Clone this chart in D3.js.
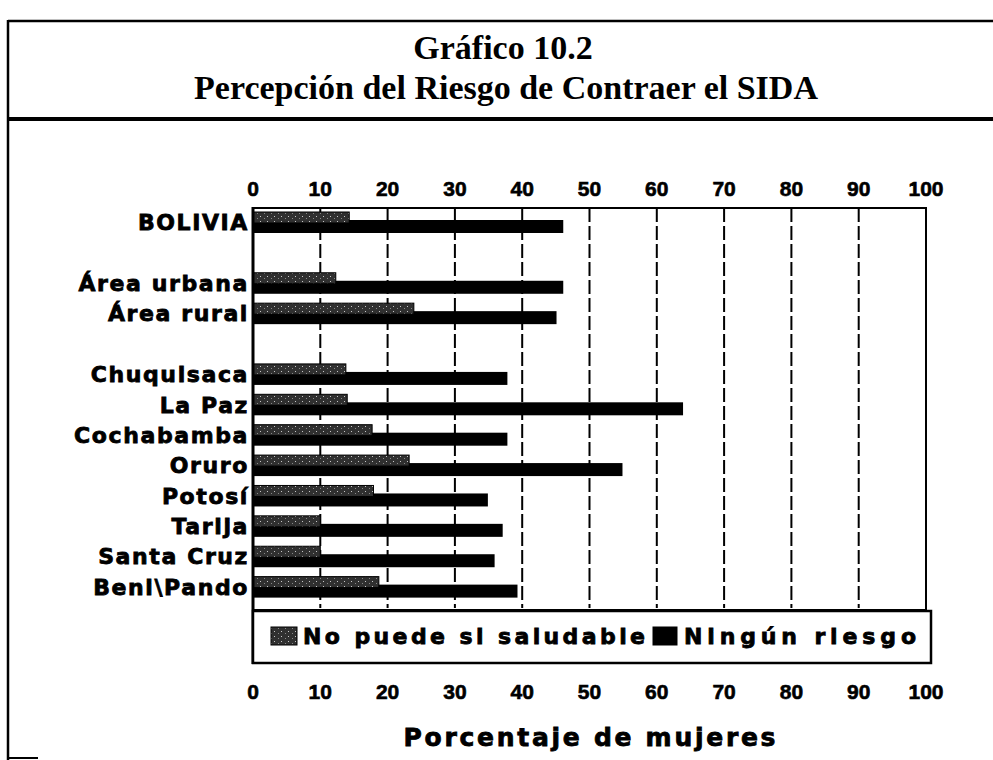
<!DOCTYPE html>
<html>
<head>
<meta charset="utf-8">
<script src="https://cdn.jsdelivr.net/npm/d3@7"></script>
<style>
  body { margin: 0; background: #fff; }
  svg { display: block; }
</style>
</head>
<body>
<div id="chart"></div>
<script>
// Data
const categories = ["BOLIVIA", "Área urbana", "Área rural", "Chuquisaca", "La Paz",
    "Cochabamba", "Oruro", "Potosí", "Tarija", "Santa Cruz", "Beni\\Pando"];
const noPuede = [14.3, 12.3, 23.9, 13.8, 14.0, 17.7, 23.2, 17.9, 10.0, 10.0, 18.7];
const ningunRiesgo = [46.1, 46.1, 45.1, 37.8, 63.9, 37.8, 54.9, 34.9, 37.1, 35.9, 39.3];
const tickValues = [0, 10, 20, 30, 40, 50, 60, 70, 80, 90, 100];
const seriesNames = ["No puede si saludable", "Ningún riesgo"];

const width = 993, height = 760;

const svg = d3.select("#chart")
    .append("svg")
    .attr("width", width)
    .attr("height", height);

// speckled dark fill for first series
const defs = svg.append("defs");
const pat = defs.append("pattern")
    .attr("id", "speckle")
    .attr("patternUnits", "userSpaceOnUse")
    .attr("width", 7)
    .attr("height", 5);
pat.append("rect").attr("width", 7).attr("height", 5).attr("fill", "#303030");
pat.append("rect").attr("x", 1).attr("y", 1).attr("width", 1).attr("height", 1).attr("fill", "#c8c8c8");
pat.append("rect").attr("x", 5).attr("y", 3).attr("width", 1).attr("height", 1).attr("fill", "#888");

// page frame
svg.append("line").attr("x1", 8).attr("x2", width).attr("y1", 21).attr("y2", 21)
    .attr("stroke", "#000").attr("stroke-width", 2.5);
svg.append("line").attr("x1", 8).attr("x2", width).attr("y1", 119).attr("y2", 119)
    .attr("stroke", "#000").attr("stroke-width", 4);
svg.append("line").attr("x1", 8).attr("x2", 8).attr("y1", 20).attr("y2", height)
    .attr("stroke", "#000").attr("stroke-width", 2.5);
svg.append("line").attr("x1", 8).attr("x2", 38).attr("y1", 758).attr("y2", 758)
    .attr("stroke", "#000").attr("stroke-width", 2);

// title
const title = svg.append("g")
    .style("font-family", "'Liberation Serif', 'Times New Roman', serif")
    .style("font-weight", "bold")
    .attr("text-anchor", "middle");
title.append("text").attr("x", 503).attr("y", 59)
    .style("font-size", "34px").text("Gráfico 10.2");
title.append("text").attr("x", 506).attr("y", 99)
    .style("font-size", "34px").text("Percepción del Riesgo de Contraer el SIDA");

// scales
const x = d3.scaleLinear().domain([0, 100]).range([253, 926]);

// blank slots after BOLIVIA and after Área rural
const slots = [categories[0], "gap1", categories[1], categories[2], "gap2"].concat(categories.slice(3));
const y = d3.scaleBand().domain(slots).range([207, 602]);

const plotTop = 208, plotBottom = 610;

// dashed gridlines
svg.append("g")
    .selectAll("line")
    .data(tickValues.slice(1, -1))
    .join("line")
    .attr("x1", d => x(d)).attr("x2", d => x(d))
    .attr("y1", plotTop).attr("y2", plotBottom - 2)
    .attr("stroke", "#000")
    .attr("stroke-width", 2)
    .attr("stroke-dasharray", "14,4");

// plot frame
svg.append("rect")
    .attr("x", x(0)).attr("y", plotTop)
    .attr("width", x(100) - x(0)).attr("height", plotBottom - plotTop)
    .attr("fill", "none").attr("stroke", "#000").attr("stroke-width", 2);

const rows = categories.map((c, i) => ({ cat: c, a: noPuede[i], b: ningunRiesgo[i] }));

// Ningún riesgo (black, lower)
svg.selectAll(".barB")
    .data(rows)
    .join("rect")
    .attr("class", "barB")
    .attr("x", x(0))
    .attr("y", d => y(d.cat) + 13)
    .attr("width", d => x(d.b) - x(0))
    .attr("height", 13)
    .attr("fill", "#000");

// No puede si saludable (speckled, upper, in front)
svg.selectAll(".barA")
    .data(rows)
    .join("rect")
    .attr("class", "barA")
    .attr("x", x(0))
    .attr("y", d => y(d.cat) + 5)
    .attr("width", d => x(d.a) - x(0))
    .attr("height", 11)
    .attr("fill", "url(#speckle)")
    .attr("stroke", "#000")
    .attr("stroke-width", 1);

// left axis line
svg.append("line")
    .attr("x1", x(0)).attr("x2", x(0))
    .attr("y1", plotTop - 1).attr("y2", 664)
    .attr("stroke", "#000").attr("stroke-width", 3);

// heavy sans style used for labels
const heavy = (sel, size) => sel
    .style("font-family", "'DejaVu Sans', sans-serif")
    .style("font-weight", "bold")
    .style("font-size", size + "px")
    .attr("stroke", "#000")
    .attr("stroke-width", 0.8);

// category labels
svg.append("g")
    .selectAll("text")
    .data(categories)
    .join("text")
    .attr("x", 249)
    .attr("y", d => y(d) + y.bandwidth() / 2 + 8)
    .attr("text-anchor", "end")
    .call(heavy, 22)
    .style("letter-spacing", "1.6px")
    .text(d => d);

// tick labels top and bottom
const tickFont = sel => sel
    .attr("text-anchor", "middle")
    .style("font-family", "'Liberation Sans', Arial, sans-serif")
    .style("font-weight", "bold")
    .style("font-size", "21px")
    .attr("stroke", "#000")
    .attr("stroke-width", 0.6);

svg.append("g").selectAll("text")
    .data(tickValues)
    .join("text")
    .attr("x", d => x(d))
    .attr("y", 196)
    .call(tickFont)
    .text(d => d);

svg.append("g").selectAll("text")
    .data(tickValues)
    .join("text")
    .attr("x", d => x(d))
    .attr("y", 699)
    .call(tickFont)
    .text(d => d);

// legend
const legend = svg.append("g");
legend.append("rect")
    .attr("x", x(0)).attr("y", 611)
    .attr("width", 931 - x(0)).attr("height", 52)
    .attr("fill", "#fff").attr("stroke", "#000").attr("stroke-width", 2.5);

const legendItems = [
    { name: seriesNames[0], fill: "url(#speckle)", sx: 271, sw: 26, tx: 303, tl: 342 },
    { name: seriesNames[1], fill: "#000", sx: 653, sw: 24, tx: 684, tl: 232 }
];
legend.selectAll(".sw")
    .data(legendItems)
    .join("rect")
    .attr("class", "sw")
    .attr("x", d => d.sx).attr("y", 627)
    .attr("width", d => d.sw).attr("height", 18)
    .attr("fill", d => d.fill)
    .attr("stroke", "#000").attr("stroke-width", 1);
legend.selectAll(".lt")
    .data(legendItems)
    .join("text")
    .attr("class", "lt")
    .attr("x", d => d.tx).attr("y", 644)
    .attr("textLength", d => d.tl)
    .attr("lengthAdjust", "spacing")
    .call(heavy, 22)
    .text(d => d.name);

// axis title
svg.append("text")
    .attr("x", (x(0) + x(100)) / 2)
    .attr("y", 746)
    .attr("text-anchor", "middle")
    .attr("textLength", 372)
    .attr("lengthAdjust", "spacing")
    .call(heavy, 25)
    .text("Porcentaje de mujeres");
</script>
</body>
</html>
